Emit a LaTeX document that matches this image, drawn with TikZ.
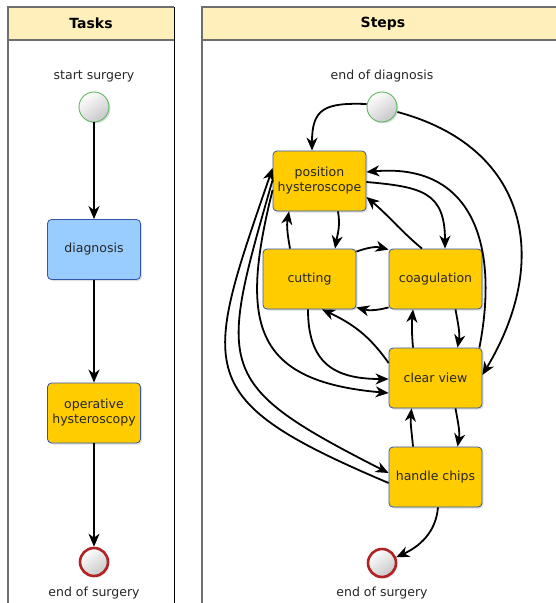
\documentclass[tikz,border=0pt]{standalone}
\usepackage{fontspec}
\setmainfont{DejaVu Sans}
\usepackage{xcolor}
\usepackage{tikz}
\usetikzlibrary{arrows.meta, shadows}
\definecolor{HdrYellow}{RGB}{255,240,187}
\definecolor{TaskGold}{RGB}{255,204,0}
\definecolor{DiagBlue}{RGB}{153,204,255}
\definecolor{BoxEdge}{RGB}{51,85,170}
\definecolor{StartGreen}{RGB}{92,184,92}
\definecolor{EndRed}{RGB}{178,34,34}
\definecolor{PoolGray}{RGB}{110,110,110}

\begin{document}
\begin{tikzpicture}[x=1pt, y=1pt,
          task/.style={rectangle, rounded corners=4pt, fill=TaskGold,
                       draw=BoxEdge, line width=0.8pt,
                       minimum width=93pt, minimum height=60pt,
                       inner sep=1pt, align=center, text=black!85,
                       font=\fontsize{12.5}{15}\selectfont,
                       drop shadow={shadow xshift=1.5pt, shadow yshift=-1.5pt,
                                    opacity=0.25}},
          event/.style={circle, minimum size=30pt, inner sep=0pt,
                        top color=white, bottom color=black!22,
                        shading angle=35,
                        drop shadow={shadow xshift=1.5pt, shadow yshift=-1.5pt,
                                     opacity=0.25}},
          startev/.style={event, draw=StartGreen, line width=0.9pt},
          endev/.style={event, draw=EndRed, line width=2.6pt, minimum size=28pt},
          lbl/.style={font=\fontsize{12.5}{15}\selectfont, text=black!85},
          title/.style={font=\fontsize{14}{16}\selectfont\bfseries},
          pool/.style={PoolGray, line width=2pt},
          arr/.style={-{Stealth[length=13pt, width=11pt, inset=4pt]},
                      line width=1.8pt}
        ]
        \useasboundingbox (0,0) rectangle (556,-603);

        % Pools
        \fill[HdrYellow] (8,-7) rectangle (174,-40);
        \fill[HdrYellow] (202,-7) rectangle (570,-40);
        \draw[pool] (8,-620) -- (8,-7) -- (174,-7);
        \draw[pool] (8,-40) -- (174,-40);
        \draw[black, line width=0.8pt] (174,-7) -- (174,-620);
        \draw[pool] (202,-620) -- (202,-7) -- (570,-7);
        \draw[pool] (202,-40) -- (570,-40);
        \node[title] (tasks) at (91,-23.5) {Tasks};
        \node[title] (steps) at (383,-23.5) {Steps};

        % Tasks lane
        \node[startev] (start) at (94,-107) {};
        \node[lbl] at (94,-76) {start surgery};
        \node[task, fill=DiagBlue] (diag) at (94,-249.5) {diagnosis};
        \node[task] (op) at (94,-413) {operative\\hysteroscopy};
        \node[endev] (endL) at (94,-562) {};
        \node[lbl] at (94,-593) {end of surgery};

        \draw[arr] (start) -- (diag);
        \draw[arr] (diag) -- (op);
        \draw[arr] (op) -- (endL);

        % Steps lane
        \node[startev] (eod) at (382,-107) {};
        \node[lbl] at (382,-76) {end of diagnosis};
        \node[task] (ph)   at (319.5,-181) {position\\hysteroscope};
        \node[task] (cut)  at (309.5,-279) {cutting};
        \node[task] (coag) at (435.5,-279) {coagulation};
        \node[task] (cv)   at (435.5,-378) {clear view};
        \node[task] (hc)   at (435.5,-477) {handle chips};
        \node[endev] (eos) at (382,-563) {};
        \node[lbl] at (382,-593) {end of surgery};

        % Transitions
        \draw[arr] ([yshift=3pt]eod.west) to[out=178, in=90, looseness=1.5]
              ([xshift=-7.5pt]ph.north);
        \draw[arr] ([yshift=-5pt]eod.east) to[out=-15, in=59, looseness=1.25]
              ([yshift=3pt]cv.east);
        \draw[arr] ([xshift=18.5pt]ph.south) to[out=-80, in=80]
              ([xshift=25.5pt]cut.north);
        \draw[arr] ([xshift=-19.5pt]cut.north) to[out=100, in=-100]
              ([xshift=-30.5pt]ph.south);
        \draw[arr] ([yshift=-1pt]ph.east) to[out=-5, in=90, looseness=1.4]
              ([xshift=9.5pt]coag.north);
        \draw[arr] ([xshift=-13.5pt]coag.north) to[out=140, in=-40]
              ([yshift=-16pt]ph.east);
        \draw[arr] ([xshift=-3pt]cv.north east) to[out=79, in=5, looseness=1.3]
              ([yshift=9pt]ph.east);
        \draw[arr] ([yshift=-3pt]cut.north east) to[out=20, in=165]
              ([yshift=-1pt]coag.north west);
        \draw[arr] ([yshift=2pt]coag.south west) to[out=-165, in=-15]
              ([yshift=2pt]cut.south east);
        \draw[arr] ([yshift=15pt]cv.west) to[out=125, in=-25]
              ([xshift=12.5pt]cut.south);
        \draw[arr] ([xshift=-1.5pt]cut.south) to[out=-90, in=180, looseness=1.3]
              ([yshift=-1pt]cv.west);
        \draw[arr] ([xshift=-22.5pt]cv.north) to[out=95, in=-95]
              ([xshift=-22.5pt]coag.south);
        \draw[arr] ([xshift=20pt]coag.south) to[out=-80, in=80]
              ([xshift=22pt]cv.north);
        \draw[arr] ([yshift=-9pt]ph.west) to[out=-104, in=175, looseness=1.5]
              ([yshift=-15pt]cv.west);
        \draw[arr] ([xshift=20pt]cv.south) to[out=-80, in=80]
              ([xshift=22pt]hc.north);
        \draw[arr] ([xshift=-22.5pt]hc.north) to[out=95, in=-95]
              ([xshift=-24pt]cv.south);
        \draw[arr] ([yshift=1pt]ph.west) to[out=-106, in=153, looseness=1.6]
              ([yshift=4pt]hc.west);
        \draw[arr] ([yshift=-6pt]hc.west) to[out=157, in=-109, looseness=1.65]
              ([yshift=13pt]ph.west);
        \draw[arr] ([xshift=2.5pt]hc.south) to[out=-95, in=25] (eos.22);
\end{tikzpicture}
\end{document}
